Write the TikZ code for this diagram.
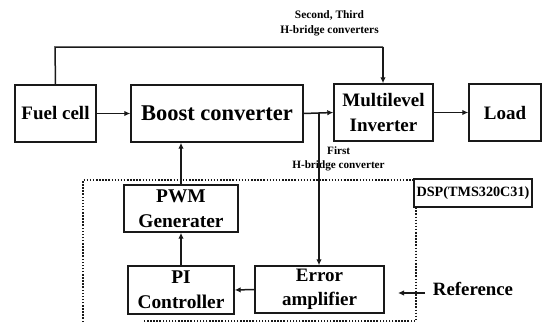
\documentclass[tikz,border=0pt]{standalone}
\usepackage{fontspec}
\setmainfont{Liberation Serif}
\usetikzlibrary{arrows.meta}
\tikzset{
 blk/.style={draw=black!90,line width=1.4pt,rectangle,inner sep=0pt,align=center,fill=white,font=\bfseries\fontsize{#1}{#1}\selectfont},
 conn/.style={draw=black!90,line width=1.5pt,-{Latex[length=6pt,width=5.5pt]}},
 plain/.style={draw=black!90,line width=1.5pt},
 lab/.style={inner sep=0pt,align=center,font=\bfseries\fontsize{#1}{#1}\selectfont},
}
\begin{document}
\begin{tikzpicture}[x=1pt,y=-1pt]
\useasboundingbox (0,0) rectangle (550,322);
\draw[draw=black!90,line width=1.3pt,dash pattern=on 1.5pt off 1.6pt] (83,322) -- (83,180) -- (416,180) -- (416,321) -- (143,321);
\node[blk=19,minimum width=81pt,minimum height=57pt] (fuel) at (55.5,113.5) {Fuel cell};
\node[blk=22.5,minimum width=172pt,minimum height=57pt] (boost) at (217,113.5) {Boost converter};
\node[blk=19,minimum width=99pt,minimum height=57pt] (inv) at (383.5,112.5) {Multilevel\\[6pt]Inverter};
\node[blk=19,minimum width=72pt,minimum height=57pt] (load) at (505,112.5) {Load};
\node[blk=19.4,minimum width=114pt,minimum height=47pt] (pwm) at (181,208.5) {PWM\\[5.5pt]Generater};
\node[blk=19.4,minimum width=106pt,minimum height=48pt] (pi) at (181,290) {PI\\[5.5pt]Controller};
\node[blk=19,minimum width=129pt,minimum height=47pt] (err) at (319.5,289.5) {Error\\[5.5pt]amplifier};
\node[blk=14.2,minimum width=118pt,minimum height=28pt] (dsp) at (473,193) {DSP(TMS320C31)};
\node[lab=18.8] (ref) at (473,289) {Reference};
\node[lab=11.4] (second) at (329.5,23) {Second, Third\\[3.5pt]H-bridge converters};
\node[lab=11.2,anchor=west] (first) at (327,151) {First};
\node[lab=11.2] (hb) at (338.5,166) {H-bridge converter};
\coordinate (j) at (319,113);
\coordinate (refend) at (425,293);
\coordinate (reftip) at (398,293);
\draw[plain] (fuel.north) -- (55,47) -- (383,47) coordinate (c1);
\draw[conn] (c1) -- (inv.north -| c1);
\draw[conn] (fuel.east) -- (boost.west);
\draw[conn] (boost.east) -- (inv.west);
\draw[conn] (inv.east) -- (load.west);
\draw[conn] (j) -- (err.north -| j);
\draw[conn] (pwm.north) -- (boost.south -| pwm.north);
\draw[conn] (pi.north) -- (pwm.south);
\draw[conn] (err.west) -- (pi.east);
\draw[conn] (refend) -- (reftip);
\end{tikzpicture}
\end{document}
